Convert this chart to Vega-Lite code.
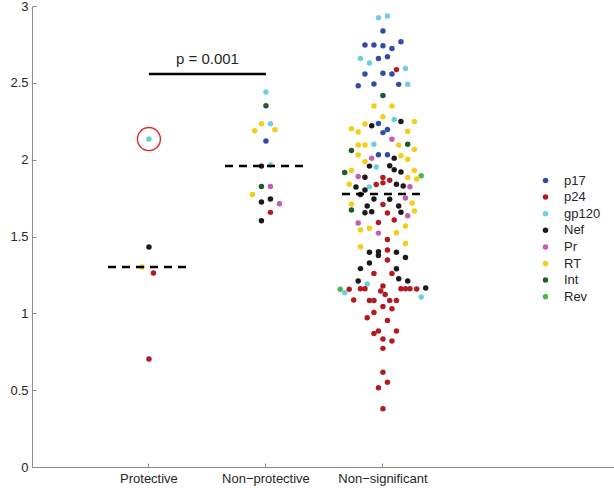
{
  "$schema": "https://vega.github.io/schema/vega-lite/v6.json",
  "width": 582,
  "height": 461,
  "autosize": {"type": "none"},
  "padding": {"left": 32, "top": 6, "right": 0, "bottom": 21},
  "background": "white",
  "config": {
    "view": {"stroke": null},
    "font": "Liberation Sans",
    "axis": {
      "grid": false,
      "domainColor": "#8c8c8c",
      "tickColor": "#8c8c8c",
      "labelColor": "#262626",
      "labelFontSize": 13,
      "titleFontSize": 13,
      "titleFontWeight": "normal",
      "titleColor": "#262626"
    }
  },
  "layer": [
    {
      "data": {
        "values": [
          {"cat": "Protective", "entropy": 2.134, "protein": "gp120", "slot": 0},
          {"cat": "Protective", "entropy": 1.431, "protein": "Nef", "slot": 0},
          {"cat": "Protective", "entropy": 1.301, "protein": "RT", "slot": -1.5},
          {"cat": "Protective", "entropy": 1.262, "protein": "p24", "slot": 1},
          {"cat": "Protective", "entropy": 0.703, "protein": "p24", "slot": 0},
          {"cat": "Non−protective", "entropy": 2.440, "protein": "gp120", "slot": 0},
          {"cat": "Non−protective", "entropy": 2.351, "protein": "Int", "slot": 0},
          {"cat": "Non−protective", "entropy": 2.234, "protein": "RT", "slot": -1},
          {"cat": "Non−protective", "entropy": 2.234, "protein": "gp120", "slot": 1},
          {"cat": "Non−protective", "entropy": 2.188, "protein": "RT", "slot": -2.5},
          {"cat": "Non−protective", "entropy": 2.194, "protein": "RT", "slot": 2},
          {"cat": "Non−protective", "entropy": 2.121, "protein": "p17", "slot": 0},
          {"cat": "Non−protective", "entropy": 1.958, "protein": "Nef", "slot": -1},
          {"cat": "Non−protective", "entropy": 1.965, "protein": "gp120", "slot": 1},
          {"cat": "Non−protective", "entropy": 1.826, "protein": "Int", "slot": -1},
          {"cat": "Non−protective", "entropy": 1.826, "protein": "Pr", "slot": 1},
          {"cat": "Non−protective", "entropy": 1.774, "protein": "RT", "slot": -3},
          {"cat": "Non−protective", "entropy": 1.744, "protein": "Nef", "slot": 1},
          {"cat": "Non−protective", "entropy": 1.724, "protein": "Nef", "slot": -1},
          {"cat": "Non−protective", "entropy": 1.713, "protein": "Pr", "slot": 3},
          {"cat": "Non−protective", "entropy": 1.657, "protein": "p24", "slot": 1},
          {"cat": "Non−protective", "entropy": 1.602, "protein": "Nef", "slot": -1},
          {"cat": "Non−significant", "entropy": 2.923, "protein": "gp120", "slot": -1},
          {"cat": "Non−significant", "entropy": 2.935, "protein": "gp120", "slot": 1},
          {"cat": "Non−significant", "entropy": 2.837, "protein": "p17", "slot": 0},
          {"cat": "Non−significant", "entropy": 2.746, "protein": "p17", "slot": -4},
          {"cat": "Non−significant", "entropy": 2.746, "protein": "p17", "slot": -2},
          {"cat": "Non−significant", "entropy": 2.741, "protein": "p17", "slot": 0},
          {"cat": "Non−significant", "entropy": 2.724, "protein": "p17", "slot": 2},
          {"cat": "Non−significant", "entropy": 2.767, "protein": "p17", "slot": 4},
          {"cat": "Non−significant", "entropy": 2.659, "protein": "gp120", "slot": -5},
          {"cat": "Non−significant", "entropy": 2.659, "protein": "p17", "slot": -1},
          {"cat": "Non−significant", "entropy": 2.670, "protein": "p17", "slot": 1},
          {"cat": "Non−significant", "entropy": 2.629, "protein": "gp120", "slot": -3},
          {"cat": "Non−significant", "entropy": 2.586, "protein": "p24", "slot": 3},
          {"cat": "Non−significant", "entropy": 2.594, "protein": "gp120", "slot": 5},
          {"cat": "Non−significant", "entropy": 2.557, "protein": "p17", "slot": -4},
          {"cat": "Non−significant", "entropy": 2.563, "protein": "p17", "slot": 0},
          {"cat": "Non−significant", "entropy": 2.557, "protein": "p17", "slot": 2},
          {"cat": "Non−significant", "entropy": 2.481, "protein": "p17", "slot": -5.5},
          {"cat": "Non−significant", "entropy": 2.492, "protein": "p17", "slot": -2},
          {"cat": "Non−significant", "entropy": 2.490, "protein": "p17", "slot": 3.5},
          {"cat": "Non−significant", "entropy": 2.491, "protein": "gp120", "slot": 5.5},
          {"cat": "Non−significant", "entropy": 2.417, "protein": "Int", "slot": 0},
          {"cat": "Non−significant", "entropy": 2.349, "protein": "RT", "slot": -2},
          {"cat": "Non−significant", "entropy": 2.349, "protein": "RT", "slot": 2},
          {"cat": "Non−significant", "entropy": 2.279, "protein": "RT", "slot": 0},
          {"cat": "Non−significant", "entropy": 2.261, "protein": "gp120", "slot": 2.5},
          {"cat": "Non−significant", "entropy": 2.248, "protein": "Nef", "slot": 4},
          {"cat": "Non−significant", "entropy": 2.249, "protein": "RT", "slot": 7},
          {"cat": "Non−significant", "entropy": 2.232, "protein": "RT", "slot": -4},
          {"cat": "Non−significant", "entropy": 2.221, "protein": "Nef", "slot": -2.5},
          {"cat": "Non−significant", "entropy": 2.236, "protein": "p17", "slot": -1},
          {"cat": "Non−significant", "entropy": 2.201, "protein": "RT", "slot": -7},
          {"cat": "Non−significant", "entropy": 2.180, "protein": "RT", "slot": -5.5},
          {"cat": "Non−significant", "entropy": 2.196, "protein": "p17", "slot": 1},
          {"cat": "Non−significant", "entropy": 2.176, "protein": "p17", "slot": 0},
          {"cat": "Non−significant", "entropy": 2.184, "protein": "RT", "slot": 5.5},
          {"cat": "Non−significant", "entropy": 2.133, "protein": "Pr", "slot": 2},
          {"cat": "Non−significant", "entropy": 2.095, "protein": "RT", "slot": -5.5},
          {"cat": "Non−significant", "entropy": 2.095, "protein": "RT", "slot": -4},
          {"cat": "Non−significant", "entropy": 2.100, "protein": "gp120", "slot": -2},
          {"cat": "Non−significant", "entropy": 2.095, "protein": "RT", "slot": 3.5},
          {"cat": "Non−significant", "entropy": 2.100, "protein": "Int", "slot": 5.5},
          {"cat": "Non−significant", "entropy": 2.067, "protein": "RT", "slot": 7},
          {"cat": "Non−significant", "entropy": 2.059, "protein": "Int", "slot": -7},
          {"cat": "Non−significant", "entropy": 2.030, "protein": "RT", "slot": -5.5},
          {"cat": "Non−significant", "entropy": 2.010, "protein": "Pr", "slot": -2.5},
          {"cat": "Non−significant", "entropy": 2.032, "protein": "p17", "slot": -1},
          {"cat": "Non−significant", "entropy": 2.032, "protein": "p17", "slot": 1},
          {"cat": "Non−significant", "entropy": 2.010, "protein": "Nef", "slot": 2.5},
          {"cat": "Non−significant", "entropy": 2.025, "protein": "RT", "slot": 4},
          {"cat": "Non−significant", "entropy": 2.003, "protein": "RT", "slot": 5.5},
          {"cat": "Non−significant", "entropy": 1.986, "protein": "RT", "slot": -4},
          {"cat": "Non−significant", "entropy": 1.958, "protein": "Nef", "slot": -3},
          {"cat": "Non−significant", "entropy": 1.953, "protein": "gp120", "slot": -1.5},
          {"cat": "Non−significant", "entropy": 1.960, "protein": "Nef", "slot": 1.5},
          {"cat": "Non−significant", "entropy": 1.934, "protein": "Nef", "slot": 2.5},
          {"cat": "Non−significant", "entropy": 1.919, "protein": "Nef", "slot": 4},
          {"cat": "Non−significant", "entropy": 1.929, "protein": "RT", "slot": 7},
          {"cat": "Non−significant", "entropy": 1.917, "protein": "Int", "slot": -8.5},
          {"cat": "Non−significant", "entropy": 1.929, "protein": "RT", "slot": -7},
          {"cat": "Non−significant", "entropy": 1.890, "protein": "Pr", "slot": -5.5},
          {"cat": "Non−significant", "entropy": 1.885, "protein": "Nef", "slot": -4},
          {"cat": "Non−significant", "entropy": 1.884, "protein": "p24", "slot": 0},
          {"cat": "Non−significant", "entropy": 1.884, "protein": "RT", "slot": 5.5},
          {"cat": "Non−significant", "entropy": 1.895, "protein": "Rev", "slot": 8.5},
          {"cat": "Non−significant", "entropy": 1.875, "protein": "RT", "slot": 7.5},
          {"cat": "Non−significant", "entropy": 1.849, "protein": "p24", "slot": 0},
          {"cat": "Non−significant", "entropy": 1.866, "protein": "p24", "slot": 1.5},
          {"cat": "Non−significant", "entropy": 1.840, "protein": "Nef", "slot": 3},
          {"cat": "Non−significant", "entropy": 1.839, "protein": "p24", "slot": -1.5},
          {"cat": "Non−significant", "entropy": 1.840, "protein": "RT", "slot": -7.5},
          {"cat": "Non−significant", "entropy": 1.822, "protein": "Nef", "slot": -6},
          {"cat": "Non−significant", "entropy": 1.823, "protein": "gp120", "slot": -3},
          {"cat": "Non−significant", "entropy": 1.828, "protein": "Nef", "slot": 4.5},
          {"cat": "Non−significant", "entropy": 1.824, "protein": "Pr", "slot": 6},
          {"cat": "Non−significant", "entropy": 1.802, "protein": "Nef", "slot": -4},
          {"cat": "Non−significant", "entropy": 1.774, "protein": "Nef", "slot": -5},
          {"cat": "Non−significant", "entropy": 1.744, "protein": "Nef", "slot": -2},
          {"cat": "Non−significant", "entropy": 1.742, "protein": "Nef", "slot": 1.5},
          {"cat": "Non−significant", "entropy": 1.750, "protein": "Pr", "slot": 5},
          {"cat": "Non−significant", "entropy": 1.718, "protein": "RT", "slot": 6.5},
          {"cat": "Non−significant", "entropy": 1.711, "protein": "RT", "slot": -7},
          {"cat": "Non−significant", "entropy": 1.709, "protein": "p24", "slot": 0},
          {"cat": "Non−significant", "entropy": 1.698, "protein": "Nef", "slot": -3.5},
          {"cat": "Non−significant", "entropy": 1.698, "protein": "Nef", "slot": 3.5},
          {"cat": "Non−significant", "entropy": 1.672, "protein": "Int", "slot": -7},
          {"cat": "Non−significant", "entropy": 1.655, "protein": "Nef", "slot": -4},
          {"cat": "Non−significant", "entropy": 1.661, "protein": "Nef", "slot": -2.5},
          {"cat": "Non−significant", "entropy": 1.653, "protein": "p24", "slot": 1},
          {"cat": "Non−significant", "entropy": 1.658, "protein": "Nef", "slot": 4},
          {"cat": "Non−significant", "entropy": 1.666, "protein": "RT", "slot": 7},
          {"cat": "Non−significant", "entropy": 1.635, "protein": "Pr", "slot": 5.5},
          {"cat": "Non−significant", "entropy": 1.607, "protein": "p24", "slot": 2.5},
          {"cat": "Non−significant", "entropy": 1.591, "protein": "p24", "slot": -1},
          {"cat": "Non−significant", "entropy": 1.588, "protein": "Pr", "slot": -5.5},
          {"cat": "Non−significant", "entropy": 1.542, "protein": "RT", "slot": -5},
          {"cat": "Non−significant", "entropy": 1.553, "protein": "RT", "slot": -3},
          {"cat": "Non−significant", "entropy": 1.568, "protein": "RT", "slot": 5},
          {"cat": "Non−significant", "entropy": 1.522, "protein": "Pr", "slot": -1},
          {"cat": "Non−significant", "entropy": 1.524, "protein": "RT", "slot": 3},
          {"cat": "Non−significant", "entropy": 1.481, "protein": "p24", "slot": 1},
          {"cat": "Non−significant", "entropy": 1.455, "protein": "RT", "slot": 5},
          {"cat": "Non−significant", "entropy": 1.433, "protein": "RT", "slot": -5},
          {"cat": "Non−significant", "entropy": 1.412, "protein": "p24", "slot": 1},
          {"cat": "Non−significant", "entropy": 1.397, "protein": "Nef", "slot": -3},
          {"cat": "Non−significant", "entropy": 1.401, "protein": "Nef", "slot": -1},
          {"cat": "Non−significant", "entropy": 1.376, "protein": "Nef", "slot": -1},
          {"cat": "Non−significant", "entropy": 1.397, "protein": "Nef", "slot": 3},
          {"cat": "Non−significant", "entropy": 1.347, "protein": "p24", "slot": 1},
          {"cat": "Non−significant", "entropy": 1.364, "protein": "Nef", "slot": 5},
          {"cat": "Non−significant", "entropy": 1.327, "protein": "Nef", "slot": -3},
          {"cat": "Non−significant", "entropy": 1.291, "protein": "Nef", "slot": -5},
          {"cat": "Non−significant", "entropy": 1.290, "protein": "Nef", "slot": 3},
          {"cat": "Non−significant", "entropy": 1.260, "protein": "p24", "slot": -2},
          {"cat": "Non−significant", "entropy": 1.260, "protein": "p24", "slot": 2},
          {"cat": "Non−significant", "entropy": 1.225, "protein": "Nef", "slot": 3.5},
          {"cat": "Non−significant", "entropy": 1.210, "protein": "Nef", "slot": -5.5},
          {"cat": "Non−significant", "entropy": 1.210, "protein": "Nef", "slot": 5.5},
          {"cat": "Non−significant", "entropy": 1.191, "protein": "gp120", "slot": -3.5},
          {"cat": "Non−significant", "entropy": 1.178, "protein": "p24", "slot": 0},
          {"cat": "Non−significant", "entropy": 1.156, "protein": "Rev", "slot": -9.5},
          {"cat": "Non−significant", "entropy": 1.134, "protein": "gp120", "slot": -8.5},
          {"cat": "Non−significant", "entropy": 1.156, "protein": "p24", "slot": -7.5},
          {"cat": "Non−significant", "entropy": 1.160, "protein": "p24", "slot": -5},
          {"cat": "Non−significant", "entropy": 1.160, "protein": "p24", "slot": -4},
          {"cat": "Non−significant", "entropy": 1.146, "protein": "p24", "slot": -0.5},
          {"cat": "Non−significant", "entropy": 1.122, "protein": "p24", "slot": 0.5},
          {"cat": "Non−significant", "entropy": 1.160, "protein": "p24", "slot": 4},
          {"cat": "Non−significant", "entropy": 1.160, "protein": "p24", "slot": 5},
          {"cat": "Non−significant", "entropy": 1.160, "protein": "p24", "slot": 6},
          {"cat": "Non−significant", "entropy": 1.158, "protein": "p24", "slot": 7.5},
          {"cat": "Non−significant", "entropy": 1.165, "protein": "Nef", "slot": 9.5},
          {"cat": "Non−significant", "entropy": 1.107, "protein": "gp120", "slot": 8.5},
          {"cat": "Non−significant", "entropy": 1.087, "protein": "p24", "slot": -6.5},
          {"cat": "Non−significant", "entropy": 1.083, "protein": "p24", "slot": -3},
          {"cat": "Non−significant", "entropy": 1.083, "protein": "p24", "slot": -2},
          {"cat": "Non−significant", "entropy": 1.083, "protein": "p24", "slot": 1.5},
          {"cat": "Non−significant", "entropy": 1.083, "protein": "p24", "slot": 3},
          {"cat": "Non−significant", "entropy": 1.044, "protein": "p24", "slot": 0},
          {"cat": "Non−significant", "entropy": 1.030, "protein": "p24", "slot": 2},
          {"cat": "Non−significant", "entropy": 1.005, "protein": "p24", "slot": -2},
          {"cat": "Non−significant", "entropy": 0.971, "protein": "p24", "slot": -3.5},
          {"cat": "Non−significant", "entropy": 0.954, "protein": "p24", "slot": 1},
          {"cat": "Non−significant", "entropy": 0.885, "protein": "p24", "slot": -1},
          {"cat": "Non−significant", "entropy": 0.869, "protein": "p24", "slot": -2},
          {"cat": "Non−significant", "entropy": 0.885, "protein": "p24", "slot": 3},
          {"cat": "Non−significant", "entropy": 0.833, "protein": "p24", "slot": 0},
          {"cat": "Non−significant", "entropy": 0.820, "protein": "p24", "slot": 2},
          {"cat": "Non−significant", "entropy": 0.772, "protein": "p24", "slot": 0},
          {"cat": "Non−significant", "entropy": 0.616, "protein": "p24", "slot": 0},
          {"cat": "Non−significant", "entropy": 0.551, "protein": "p24", "slot": 1},
          {"cat": "Non−significant", "entropy": 0.516, "protein": "p24", "slot": -1},
          {"cat": "Non−significant", "entropy": 0.379, "protein": "p24", "slot": 0}
        ]
      },
      "mark": {"type": "point", "shape": "circle", "filled": true, "size": 30, "opacity": 1},
      "encoding": {
        "x": {
          "field": "cat", "type": "nominal", "sort": null,
          "scale": {
            "type": "band",
            "domain": ["Protective", "Non−protective", "Non−significant"],
            "paddingInner": 0, "paddingOuter": 0.987, "align": 0.253
          },
          "axis": {"title": null, "labelAngle": 0, "tickSize": -4, "labelPadding": 9}
        },
        "xOffset": {"field": "slot", "type": "quantitative", "scale": {"domain": [-10, 10], "range": [13.5, 103.5]}},
        "y": {
          "field": "entropy", "type": "quantitative",
          "scale": {"domain": [0, 3], "nice": false},
          "axis": {
            "title": "Structural Entropy", "values": [0, 0.5, 1, 1.5, 2, 2.5, 3], "format": "~g",
            "tickSize": -4, "labelPadding": 8, "titleX": -31, "titleY": 230, "titleAngle": -90,
            "titleBaseline": "alphabetic", "titleAlign": "center"
          }
        },
        "color": {
          "field": "protein", "type": "nominal",
          "scale": {
            "domain": ["p17", "p24", "gp120", "Nef", "Pr", "RT", "Int", "Rev"],
            "range": ["#2F4DA6", "#B31B21", "#6FCDE1", "#1A1A1A", "#C65BB4", "#F6CD16", "#1D5B2C", "#4DB748"]
          },
          "legend": {
            "title": null, "orient": "none", "legendX": 507, "legendY": 168,
            "symbolType": "circle", "symbolSize": 30, "symbolStrokeWidth": 0,
            "labelFontSize": 13, "labelColor": "#262626", "labelOffset": 12, "rowPadding": 2.6
          }
        }
      }
    },
    {
      "data": {"values": [{"cat": "Protective", "entropy": 2.134}]},
      "mark": {"type": "point", "shape": "circle", "filled": false, "size": 530, "stroke": "#E0262B", "strokeWidth": 1.4, "opacity": 1},
      "encoding": {
        "x": {"field": "cat", "type": "nominal", "title": null},
        "y": {"field": "entropy", "type": "quantitative", "title": null}
      }
    },
    {
      "data": {
        "values": [
          {"cat": "Protective", "median": 1.301},
          {"cat": "Non−protective", "median": 1.958},
          {"cat": "Non−significant", "median": 1.776}
        ]
      },
      "mark": {"type": "rule", "color": "black", "strokeWidth": 2.5, "strokeDash": [8, 6]},
      "encoding": {
        "x": {"field": "cat", "type": "nominal", "bandPosition": 0.15, "title": null},
        "x2": {"field": "cat", "bandPosition": 0.85},
        "y": {"field": "median", "type": "quantitative", "title": null}
      }
    },
    {
      "data": {"values": [{"from": "Protective", "to": "Non−protective", "level": 2.557, "label": "p = 0.001"}]},
      "layer": [
        {
          "mark": {"type": "rule", "color": "black", "strokeWidth": 2.5},
          "encoding": {
            "x": {"field": "from", "type": "nominal", "bandPosition": 0.5, "title": null},
            "x2": {"field": "to", "bandPosition": 0.5},
            "y": {"field": "level", "type": "quantitative", "title": null}
          }
        },
        {
          "mark": {"type": "text", "fontSize": 15, "color": "#262626", "align": "center", "baseline": "middle", "dy": -15},
          "encoding": {
            "x": {"field": "from", "type": "nominal", "bandPosition": 1, "title": null},
            "y": {"field": "level", "type": "quantitative", "title": null},
            "text": {"field": "label"}
          }
        }
      ]
    }
  ]
}
